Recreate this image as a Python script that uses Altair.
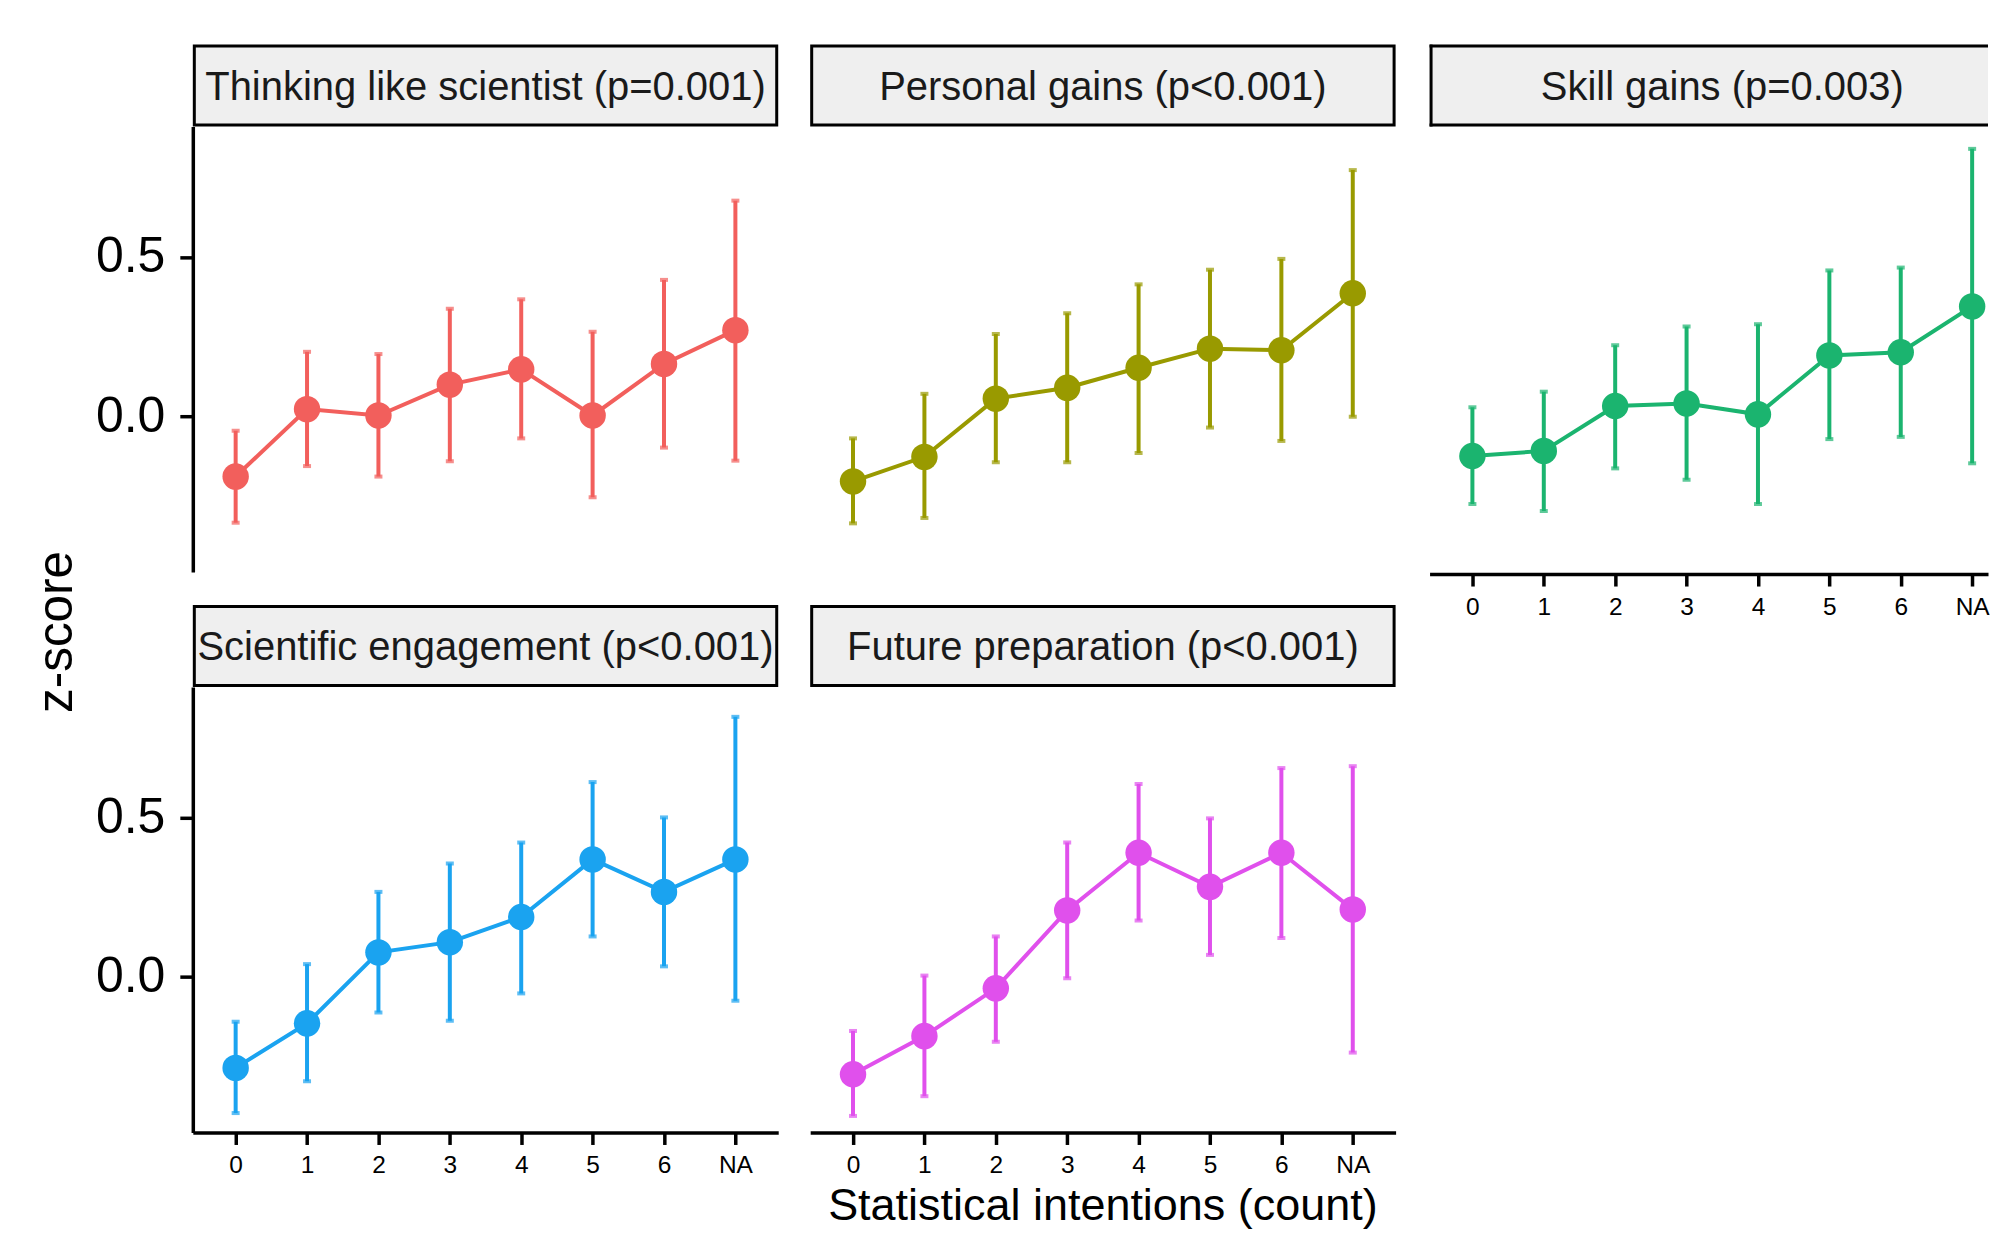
import altair as alt
import pandas as pd

FONT = "Liberation Sans"

categories = ["0", "1", "2", "3", "4", "5", "6", "NA"]
facet_names = [
    "Thinking like scientist (p=0.001)",
    "Personal gains (p<0.001)",
    "Skill gains (p=0.003)",
    "Scientific engagement (p<0.001)",
    "Future preparation (p<0.001)",
]
x_title = "Statistical intentions (count)"
y_title = "z-score"
colors = ["#F25F5C", "#999A00", "#1BB46F", "#1AA3F0", "#E050EC"]

thinking_mean = [-0.19, 0.022, 0.002, 0.099, 0.147, 0.002, 0.164, 0.27]
thinking_lo = [-0.335, -0.157, -0.19, -0.142, -0.07, -0.255, -0.099, -0.14]
thinking_hi = [-0.046, 0.202, 0.195, 0.337, 0.367, 0.265, 0.428, 0.677]

personal_mean = [-0.205, -0.128, 0.055, 0.089, 0.152, 0.212, 0.207, 0.386]
personal_lo = [-0.337, -0.32, -0.145, -0.145, -0.116, -0.036, -0.078, -0.002]
personal_hi = [-0.07, 0.07, 0.258, 0.323, 0.414, 0.46, 0.494, 0.773]

skill_mean = [-0.119, -0.103, 0.038, 0.046, 0.012, 0.197, 0.207, 0.351]
skill_lo = [-0.27, -0.292, -0.158, -0.194, -0.27, -0.066, -0.059, -0.142]
skill_hi = [0.034, 0.083, 0.229, 0.288, 0.295, 0.464, 0.473, 0.846]

engage_mean = [-0.287, -0.147, 0.076, 0.108, 0.187, 0.368, 0.266, 0.368]
engage_lo = [-0.429, -0.329, -0.113, -0.139, -0.053, 0.126, 0.032, -0.076]
engage_hi = [-0.142, 0.039, 0.266, 0.355, 0.421, 0.611, 0.5, 0.816]

future_mean = [-0.307, -0.187, -0.037, 0.208, 0.389, 0.282, 0.389, 0.211]
future_lo = [-0.438, -0.376, -0.205, -0.005, 0.176, 0.068, 0.121, -0.239]
future_hi = [-0.171, 0.003, 0.126, 0.421, 0.605, 0.497, 0.655, 0.661]

means = [thinking_mean, personal_mean, skill_mean, engage_mean, future_mean]
lows = [thinking_lo, personal_lo, skill_lo, engage_lo, future_lo]
highs = [thinking_hi, personal_hi, skill_hi, engage_hi, future_hi]

W = 586          # full panel width
W3 = 559         # visible width of the right-hand panel (cropped at the page edge)
H = 446
STRIP_H = 82
PAD = 0.6
Y_DOMAIN = [-0.49, 0.91]
AXW = 3.5
one = pd.DataFrame({"a": [0]})

# point-scale settings that keep the same step in the cropped panel
n = len(categories)
step = W / (n - 1 + 2 * PAD)
pad3 = (W3 / step - (n - 1)) / 2
align3 = PAD * step / (W3 - step * (n - 1))


def panel(i, show_y, show_x, width=W, with_title=False):
    df = pd.DataFrame({"count": categories, "mean": means[i], "lo": lows[i], "hi": highs[i]})
    c = colors[i]
    if show_x:
        xaxis = alt.Axis(
            labelFont=FONT, labelFontSize=24.5, labelColor="black", labelAngle=0,
            labelPadding=9, tickSize=12, tickWidth=AXW, tickColor="black",
            domainColor="black", domainWidth=AXW, grid=False,
        )
    else:
        xaxis = None
    if show_y:
        yaxis = alt.Axis(values=[0.0, 0.5], format=".1f", labelFont=FONT, labelFontSize=50,
                         labelColor="black", labelPadding=15, tickSize=13, tickWidth=AXW,
                         tickColor="black", domainColor="black", domainWidth=AXW, grid=False)
    else:
        yaxis = None
    if width != W:
        xscale = alt.Scale(type="point", domain=categories, padding=pad3, align=align3)
    else:
        xscale = alt.Scale(type="point", domain=categories, padding=PAD)
    yscale = alt.Scale(domain=Y_DOMAIN, nice=False, zero=False)
    x = alt.X("count:N", sort=categories, scale=xscale, axis=xaxis, title=None)
    base = alt.Chart(df)
    rules = base.mark_rule(color=c, strokeWidth=4).encode(
        x=x, y=alt.Y("lo:Q", scale=yscale, axis=yaxis, title=None), y2="hi:Q"
    )
    cap_lo = base.mark_tick(color=c, orient="horizontal", size=8, thickness=4).encode(
        x=x, y=alt.Y("lo:Q", scale=yscale, axis=yaxis, title=None)
    )
    cap_hi = base.mark_tick(color=c, orient="horizontal", size=8, thickness=4).encode(
        x=x, y=alt.Y("hi:Q", scale=yscale, axis=yaxis, title=None)
    )
    line = base.mark_line(color=c, strokeWidth=4).encode(
        x=x, y=alt.Y("mean:Q", scale=yscale, axis=yaxis, title=None)
    )
    pts = base.mark_circle(color=c, size=700, opacity=1).encode(
        x=x, y=alt.Y("mean:Q", scale=yscale, axis=yaxis, title=None)
    )
    layers = [rules, cap_lo, cap_hi, line, pts]
    if with_title:
        ttl = alt.Chart(pd.DataFrame({"t": [x_title]})).mark_text(
            font=FONT, fontSize=45, color="black", align="center", baseline="alphabetic"
        ).encode(text="t:N", x=alt.value(W / 2), y=alt.value(H + 87.5))
        layers.append(ttl)
    return alt.layer(*layers).properties(width=width, height=H)


def strip(i, width=W):
    df = pd.DataFrame({"label": [facet_names[i]]})
    txt = alt.Chart(df).mark_text(
        font=FONT, fontSize=40, color="#1A1A1A", align="center", baseline="middle"
    ).encode(
        text="label:N", x=alt.value(W / 2), y=alt.value(STRIP_H / 2 + 2)
    )
    if width == W:
        box = alt.Chart(df).mark_rect(fill="#EFEFEF", stroke="black", strokeWidth=3).encode(
            x=alt.value(1.5), x2=alt.value(W - 1.5),
            y=alt.value(1.5), y2=alt.value(STRIP_H - 1.5),
        )
        layers = [box, txt]
    else:
        box = alt.Chart(one).mark_rect(fill="#EFEFEF").encode(
            x=alt.value(0), x2=alt.value(width), y=alt.value(0), y2=alt.value(STRIP_H)
        )
        top = alt.Chart(one).mark_rule(color="black", strokeWidth=3).encode(
            x=alt.value(0), x2=alt.value(width), y=alt.value(1.5)
        )
        bottom = alt.Chart(one).mark_rule(color="black", strokeWidth=3).encode(
            x=alt.value(0), x2=alt.value(width), y=alt.value(STRIP_H - 1.5)
        )
        left = alt.Chart(one).mark_rule(color="black", strokeWidth=3).encode(
            x=alt.value(1.5), y=alt.value(0), y2=alt.value(STRIP_H)
        )
        layers = [box, top, bottom, left, txt]
    return alt.layer(*layers).properties(width=width, height=STRIP_H)


p1 = alt.vconcat(strip(0), panel(0, True, False), spacing=0)
p2 = alt.vconcat(strip(1), panel(1, False, False), spacing=0)
p3 = alt.vconcat(strip(2, W3), panel(2, False, True, W3), spacing=0)
p4 = alt.vconcat(strip(3), panel(3, True, True), spacing=0)
p5 = alt.vconcat(strip(4), panel(4, False, True, with_title=True), spacing=0)

col1 = alt.vconcat(p1, p4, spacing=33)
col2 = alt.vconcat(p2, p5, spacing=33)
col3 = p3

grid = alt.hconcat(col1, col2, col3, spacing=32)

ytitle = alt.Chart(pd.DataFrame({"t": [y_title]})).mark_text(
    angle=270, font=FONT, fontSize=49.5, color="black", align="center", baseline="middle"
).encode(
    text="t:N", x=alt.value(44), y=alt.value(588)
).properties(width=60, height=1000)

chart = alt.hconcat(ytitle, grid, spacing=13).properties(
    padding={"left": 5, "top": 34, "right": 0, "bottom": 0}
).configure_view(strokeWidth=0)

chart.save("out.html", embed_options={"renderer": "svg", "actions": False})
